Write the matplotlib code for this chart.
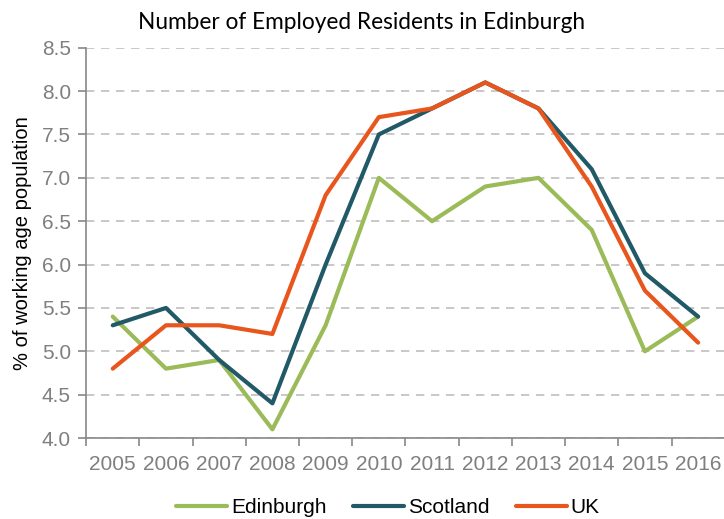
import matplotlib
matplotlib.use('Agg')
import matplotlib.pyplot as plt

years = ['2005', '2006', '2007', '2008', '2009', '2010', '2011', '2012', '2013', '2014', '2015', '2016']
edinburgh = [5.4, 4.8, 4.9, 4.1, 5.3, 7.0, 6.5, 6.9, 7.0, 6.4, 5.0, 5.4]
scotland = [5.3, 5.5, 4.9, 4.4, 6.0, 7.5, 7.8, 8.1, 7.8, 7.1, 5.9, 5.4]
uk = [4.8, 5.3, 5.3, 5.2, 6.8, 7.7, 7.8, 8.1, 7.8, 6.9, 5.7, 5.1]
yticks = [4.0, 4.5, 5.0, 5.5, 6.0, 6.5, 7.0, 7.5, 8.0, 8.5]

plt.rcParams['font.family'] = ['Liberation Sans', 'DejaVu Sans']

fig = plt.figure(figsize=(7.24, 5.19), dpi=100)
ax = fig.add_axes([0.119, 0.156, 0.882, 0.752])

x = range(len(years))
ax.plot(x, edinburgh, color='#9BBB59', lw=3, label='Edinburgh', solid_capstyle='round')
ax.plot(x, scotland, color='#215967', lw=3, label='Scotland', solid_capstyle='round')
ax.plot(x, uk, color='#E8561E', lw=3, label='UK', solid_capstyle='round')

ax.set_xlim(-0.5, len(years) - 0.5)
ax.set_ylim(4.0, 8.5)
ax.set_yticks(yticks)
ax.set_yticklabels(['%.1f' % v for v in yticks])
ax.set_xticks(list(x))
ax.set_xticklabels(years)
ax.set_xticks([i - 0.5 for i in range(len(years) + 1)], minor=True)
ax.tick_params(axis='x', which='major', length=0, pad=12, labelsize=15, labelcolor='#7F7F7F')
ax.tick_params(axis='x', which='minor', length=6, color='#888888', width=1.2)
ax.tick_params(axis='y', length=6, color='#888888', width=1.2, labelsize=15, labelcolor='#7F7F7F', pad=5)

for s in ['top', 'right']:
    ax.spines[s].set_visible(False)
for s in ['left', 'bottom']:
    ax.spines[s].set_color('#888888')
    ax.spines[s].set_linewidth(1.2)

ax.grid(axis='y', color='#BFBFBF', linestyle=(0, (5, 4)), lw=1.2)
ax.set_axisbelow(True)

ax.set_ylabel('% of working age population', fontsize=14.5, color='#000000', labelpad=7)
fig.text(0.5, 0.957, 'Number of Employed Residents in Edinburgh', ha='center', va='center',
         fontsize=16.3, family=['Lato', 'DejaVu Sans'])

fig.legend(loc='center', bbox_to_anchor=(0.536, 0.022), ncol=3, frameon=False,
           fontsize=15, handlelength=2.45, columnspacing=1.25, handletextpad=0.2)

fig.savefig('out.png', dpi=100)
